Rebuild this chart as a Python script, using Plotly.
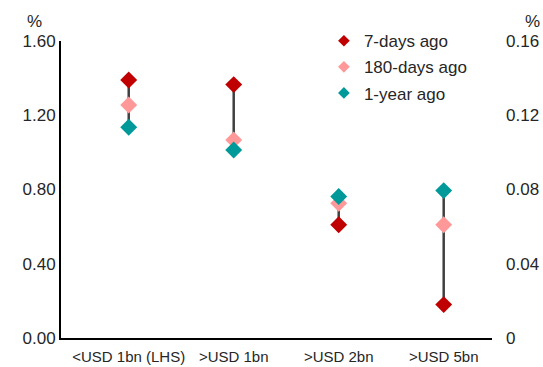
import plotly.graph_objects as go

# Deposit rate by balance tier
categories = ["<USD 1bn (LHS)", ">USD 1bn", ">USD 2bn", ">USD 5bn"]
series_names = ["7-days ago", "180-days ago", "1-year ago"]
# first tier read on the left axis, the rest on the right axis
lhs_values = {
    "7-days ago": [1.39],
    "180-days ago": [1.255],
    "1-year ago": [1.135],
}
rhs_values = {
    "7-days ago": [0.1365, 0.061, 0.018],
    "180-days ago": [0.1067, 0.0726, 0.061],
    "1-year ago": [0.1013, 0.0762, 0.0794],
}
colors = {"7-days ago": "#C00000", "180-days ago": "#FF9999", "1-year ago": "#009999"}

lhs_cats = categories[:1]
rhs_cats = categories[1:]

left_ticks = [0, 0.4, 0.8, 1.2, 1.6]
right_ticks = [0, 0.04, 0.08, 0.12, 0.16]
right_ticktext = ["0", "0.04", "0.08", "0.12", "0.16"]

FONT = "Liberation Sans, Arial, sans-serif"
TXT = "#262626"

fig = go.Figure()


def range_lines(cats, values, yaxis):
    xs, ys = [], []
    for i, c in enumerate(cats):
        vals = [values[s][i] for s in series_names]
        xs += [c, c, None]
        ys += [min(vals), max(vals), None]
    fig.add_trace(go.Scatter(
        x=xs, y=ys, mode="lines", yaxis=yaxis, showlegend=False,
        line=dict(color="#404040", width=2.5), hoverinfo="skip",
    ))


range_lines(lhs_cats, lhs_values, "y")
range_lines(rhs_cats, rhs_values, "y2")

for s in series_names:
    for cats, vals, ax in ((lhs_cats, lhs_values, "y"), (rhs_cats, rhs_values, "y2")):
        fig.add_trace(go.Scatter(
            x=cats, y=vals[s], mode="markers", name=s, yaxis=ax,
            showlegend=False,
            marker=dict(symbol="diamond", size=13, color=colors[s]),
        ))

# legend entries with smaller key symbols
for s in series_names:
    fig.add_trace(go.Scatter(
        x=[None], y=[None], mode="markers", name=s, legendgroup=s,
        marker=dict(symbol="diamond", size=9, color=colors[s]),
    ))

fig.update_layout(
    width=543, height=367,
    margin=dict(l=61, r=51, t=41, b=29),
    paper_bgcolor="white", plot_bgcolor="white",
    font=dict(family=FONT, size=17, color=TXT),
    xaxis=dict(
        type="category", categoryorder="array", categoryarray=categories,
        range=[-0.645, 3.46], showgrid=False, zeroline=False,
        showline=True, linecolor="black", linewidth=2, automargin=False,
        ticks="", tickfont=dict(size=15, color=TXT), ticklabelstandoff=4,
    ),
    yaxis=dict(
        range=[0, 1.6], tickvals=left_ticks, tickformat=".2f",
        showgrid=False, zeroline=False, showline=True, linecolor="black",
        linewidth=2, ticks="", tickfont=dict(size=17, color=TXT),
        automargin=False,
    ),
    yaxis2=dict(
        range=[0, 0.16], tickvals=right_ticks, ticktext=right_ticktext,
        overlaying="y", side="right", showgrid=False, zeroline=False,
        showline=False, linewidth=0, ticks="", automargin=False,
        tickfont=dict(size=17, color=TXT), ticklabelstandoff=13,
    ),
    legend=dict(
        x=0.61, y=1.06, xanchor="left", yanchor="top",
        bgcolor="rgba(0,0,0,0)", font=dict(size=17, color=TXT),
        itemwidth=30, traceorder="grouped", tracegroupgap=1,
    ),
    showlegend=True,
    annotations=[
        dict(text="%", xref="paper", yref="paper", x=-0.04, y=1.0,
             xanchor="right", yanchor="bottom", showarrow=False,
             font=dict(size=17, color=TXT), yshift=8),
        dict(text="%", xref="paper", yref="paper", x=1.0, y=1.0,
             xanchor="left", yanchor="bottom", showarrow=False,
             font=dict(size=17, color=TXT), xshift=31, yshift=8),
    ],
)

fig.write_html("out.html")
